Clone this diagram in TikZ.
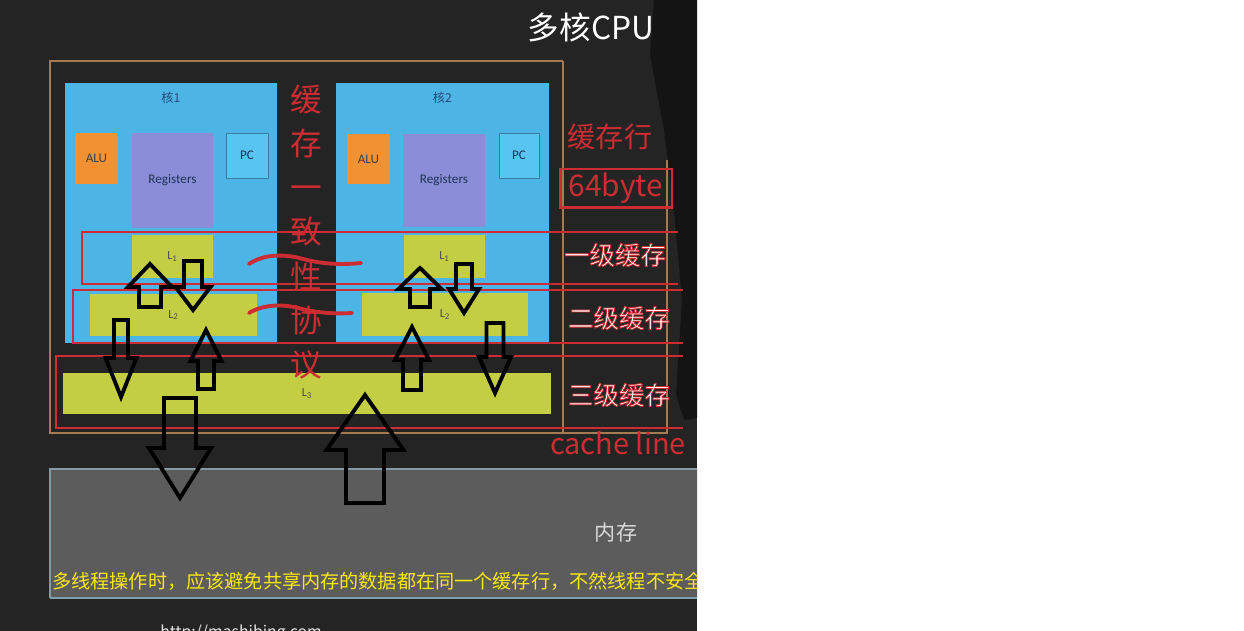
\documentclass[tikz,border=0pt]{standalone}
\usepackage{fontspec}
\setmainfont{Noto Sans CJK SC}
\newfontfamily\boxfont{Carlito}
\usepackage{xcolor}
\definecolor{bgdark}{RGB}{36,36,36}
\definecolor{coreblue}{RGB}{76,181,229}
\definecolor{alu}{RGB}{240,146,52}
\definecolor{regpurple}{RGB}{140,141,216}
\definecolor{pcblue}{RGB}{88,196,240}
\definecolor{cachegreen}{RGB}{196,206,66}
\definecolor{linered}{RGB}{205,45,50}
\definecolor{frametan}{RGB}{168,122,84}
\definecolor{memgray}{RGB}{92,92,92}
\definecolor{noteyellow}{RGB}{250,232,20}
\definecolor{tagblue}{RGB}{40,75,125}
\usetikzlibrary{positioning}

% hollow block arrow: x, tip y, head base y, tail y, head half width, shaft half width
\newcommand{\hollowarrow}[6]{%
  \draw[blockarrow] ({#1-#6},#4) -- ({#1-#6},#3) -- ({#1-#5},#3) -- (#1,#2)
    -- ({#1+#5},#3) -- ({#1+#6},#3) -- ({#1+#6},#4) -- cycle;}

% white text with a red edge (fill + stroke)
\newcommand{\rededge}[1]{%
  \special{pdf:code 0.804 0.176 0.196 RG 2 Tr 0.45 w}#1\special{pdf:code 0 Tr}}

\begin{document}
\begin{tikzpicture}[x=0.02cm, y=-0.02cm,
    core/.style={fill=coreblue, inner sep=0pt},
    unit/.style={inner sep=0pt, font=\boxfont\fontsize{7.5}{8}\selectfont},
    cache/.style={fill=cachegreen, inner sep=0pt, text=black!70,
                  font=\boxfont\fontsize{7}{8}\selectfont},
    coretag/.style={font=\fontsize{7}{8}\selectfont, text=tagblue, inner sep=1pt},
    cacheline/.style={draw=linered, line width=0.8pt},
    levelname/.style={text=white, font=\fontsize{14.5}{16}\selectfont, inner sep=0pt},
    blockarrow/.style={draw=black, line width=2.2pt, line join=miter},
    wave/.style={draw=linered, line width=2.2pt, line cap=round}
  ]
  \useasboundingbox (0,0) rectangle (1244,631);
  \fill[white] (697,0) rectangle (1244,631);

  \begin{scope}
    \clip (0,0) rectangle (697,631);
    \fill[bgdark] (0,0) rectangle (697,631);
    \fill[black!92] (654,0) -- (697,0) -- (697,418) -- (684,420) -- (676,395)
      -- (682,300) -- (674,210) -- (664,130) -- (650,55) -- cycle;

    % Title
    \node[text=white, font=\fontsize{18}{20}\selectfont] (title) at (591,27) {多核CPU};

    % CPU frame
    \draw[frametan, line width=0.8pt] (563,61) -- (50,61) -- (50,433) -- (667,433) -- (667,160);
    \draw[frametan, line width=0.8pt] (563,61) -- (563,433);

    % Core 1
    \node[core, minimum width=4.24cm, minimum height=5.2cm] (core1) at (171,213) {};
    \node[coretag, below=0.15cm of core1.north] (tag1) {核1};
    \node[unit, fill=alu, text=black!75, minimum width=0.86cm, minimum height=1.02cm] (alu1) at (96.5,158.5) {ALU};
    \node[unit, fill=regpurple, text=tagblue!70!black, minimum width=1.62cm, minimum height=1.9cm] (reg1) at (172.5,180.5) {Registers};
    \node[unit, fill=pcblue, draw=coreblue!70!black, text=tagblue!70!black, minimum width=0.84cm, minimum height=0.9cm] (pc1) at (247,155.5) {PC};
    \node[cache, minimum width=1.62cm, minimum height=0.86cm] (l1a) at (172.5,256.5) {L\textsubscript{1}};
    \node[cache, minimum width=3.34cm, minimum height=0.84cm] (l2a) at (173.5,315) {L\textsubscript{2}};

    % Core 2
    \node[core, minimum width=4.26cm, minimum height=5.22cm] (core2) at (442.5,213.5) {};
    \node[coretag, below=0.15cm of core2.north] (tag2) {核2};
    \node[unit, fill=alu, text=black!75, minimum width=0.86cm, minimum height=1.0cm] (alu2) at (368.5,159) {ALU};
    \node[unit, fill=regpurple, text=tagblue!70!black, minimum width=1.64cm, minimum height=1.86cm] (reg2) at (444,180.5) {Registers};
    \node[unit, fill=pcblue, draw=coreblue!70!black, text=tagblue!70!black, minimum width=0.8cm, minimum height=0.9cm] (pc2) at (519,155.5) {PC};
    \node[cache, minimum width=1.62cm, minimum height=0.86cm] (l1b) at (444.5,256.5) {L\textsubscript{1}};
    \node[cache, minimum width=3.32cm, minimum height=0.86cm] (l2b) at (445,314.5) {L\textsubscript{2}};

    % Shared L3
    \node[cache, minimum width=9.76cm, minimum height=0.82cm] (l3) at (307,393.5) {L\textsubscript{3}};

    % Cache line bands
    \draw[cacheline] (678,232) -- (82,232) -- (82,284) -- (678,284);
    \draw[cacheline] (683,290) -- (73,290) -- (73,343) -- (683,343);
    \draw[cacheline] (683,356) -- (56,356) -- (56,428) -- (683,428);

    % Coherence protocol
    \node[text=linered, align=center, font=\fontsize{18}{25.2}\selectfont] (protocol) at (306,232)
      {缓\\存\\一\\致\\性\\协\\议};
    \draw[wave] (249,264) .. controls (262,255) and (282,253) .. (303,259)
      .. controls (322,264) and (340,265) .. (361,263);
    \draw[wave] (249,313) .. controls (262,305) and (282,303) .. (302,309)
      .. controls (318,313) and (336,314) .. (352,313);

    % Right labels
    \node[text=linered, font=\fontsize{16}{18}\selectfont] (rowname) at (610,137) {缓存行};
    \node[draw=linered, line width=1.7pt, text=linered, inner sep=0pt,
          minimum width=2.24cm, minimum height=0.78cm, font=\fontsize{17}{18}\selectfont]
      (rowsize) at (616,188.5) {64byte};
    \node[levelname] (lv1) at (615,255) {\rededge{一级缓存}};
    \node[levelname] (lv2) at (619,318) {\rededge{二级缓存}};
    \node[levelname] (lv3) at (619,395) {\rededge{三级缓存}};
    \node[text=linered, font=\fontsize{16.5}{18}\selectfont, inner sep=0pt] (cline) at (618,443) {cache line};

    % Main memory
    \fill[memgray] (50,469) rectangle (760,598);
    \draw[gray!80!cyan, line width=0.6pt] (50,598) -- (50,469) -- (760,469);
    \draw[gray!70!cyan, line width=1pt] (50,598) -- (760,598);
    \node[text=white!85!black, font=\fontsize{12}{14}\selectfont] (mem) at (616,533) {内存};
    \node[anchor=west, text=noteyellow, font=\fontsize{10.9}{12}\selectfont, inner sep=0pt] (note) at (52,581)
      {多线程操作时，应该避免共享内存的数据都在同一个缓存行，不然线程不安全};
    \node[anchor=base west, text=white!90!black, font=\fontsize{9}{10}\selectfont, inner sep=0pt] (site) at (160,637)
      {http://mashibing.com};

    % Data moving between levels
    \hollowarrow{150}{264}{287}{307}{22}{11}
    \hollowarrow{193}{310}{287}{261}{17.5}{9}
    \hollowarrow{121}{397}{358}{320}{15.5}{7}
    \hollowarrow{206}{330}{361}{389}{15.5}{8}
    \hollowarrow{420}{268}{289}{307}{21.5}{10}
    \hollowarrow{464}{313}{289}{264}{15}{8}
    \hollowarrow{412}{327}{360}{390}{17}{9}
    \hollowarrow{495}{393}{357}{323}{16}{8.5}
    \hollowarrow{180}{498}{448}{398}{31}{16}
    \hollowarrow{365}{395}{450}{503}{38.5}{19}
  \end{scope}
\end{tikzpicture}
\end{document}
